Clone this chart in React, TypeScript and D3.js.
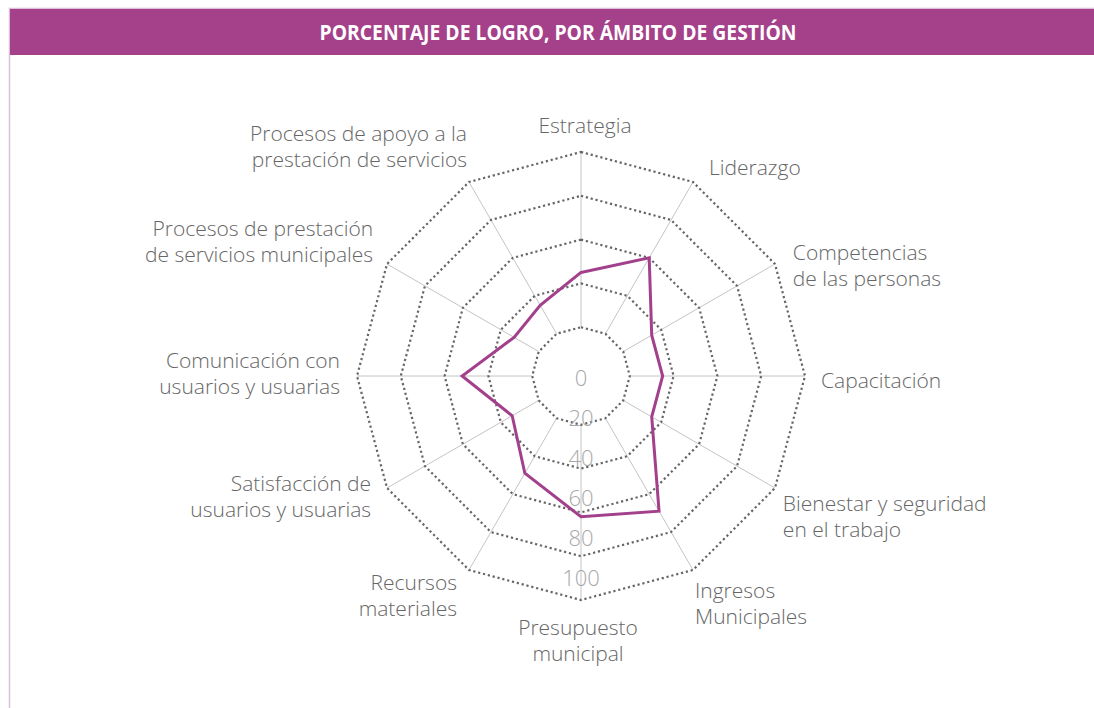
import React from "react";
import * as d3 from "d3";

const categories: string[][] = [
  ["Estrategia"],
  ["Liderazgo"],
  ["Competencias", "de las personas"],
  ["Capacitación"],
  ["Bienestar y seguridad", "en el trabajo"],
  ["Ingresos", "Municipales"],
  ["Presupuesto", "municipal"],
  ["Recursos", "materiales"],
  ["Satisfacción de", "usuarios y usuarias"],
  ["Comunicación con", "usuarios y usuarias"],
  ["Procesos de prestación", "de servicios municipales"],
  ["Procesos de apoyo a la", "prestación de servicios"],
];

const values: number[] = [45, 60, 35, 35, 35, 69, 62, 49, 34, 52, 33, 35];

const ringTicks: number[] = [20, 40, 60, 80, 100];
const tickLabels: number[] = [0, 20, 40, 60, 80, 100];

const title = "PORCENTAJE DE LOGRO, POR ÁMBITO DE GESTIÓN";

// layout nudges for category labels (dx, dy)
const labelNudge: [number, number][] = [
  [4, -11], [8, -1], [4, 9], [0, 4], [-6, 20], [-6, 19],
  [-3, 24], [-4, 11], [-2, 0], [-1, -3], [0, -15], [6, -22],
];

const W = 1094;
const H = 708;
const cx = 581;
const cy = 376;
const FONT = "'Open Sans', Lato, sans-serif";

export default function App() {
  const n = categories.length;
  const angle = d3.scaleLinear().domain([0, n]).range([0, 2 * Math.PI]);
  const r = d3.scaleLinear().domain([0, 100]).range([5, 224]);
  const tickY = d3.scaleLinear().domain([0, 100]).range([cy + 1, cy + 201]);

  const pt = (i: number, rad: number): [number, number] => {
    const a = angle(i);
    return [cx + rad * Math.sin(a), cy - rad * Math.cos(a)];
  };

  const lineGen = d3
    .line<[number, number]>()
    .x((d) => d[0])
    .y((d) => d[1])
    .curve(d3.curveLinearClosed);

  const ringPath = (v: number) =>
    lineGen(d3.range(n).map((i) => pt(i, r(v)))) || "";

  const dataPath = lineGen(values.map((v, i) => pt(i, r(v)))) || "";

  const lineH = 26.5;

  return (
    <svg
      width={W}
      height={H}
      style={{ position: "absolute", left: 0, top: 0, background: "#fff" }}
      fontFamily={FONT}
    >
      <rect x={9.5} y={8.5} width={W} height={H} fill="none" stroke="#dfbedb" strokeWidth={1.5} />
      <rect x={10} y={9} width={W - 10} height={46} fill="#a5418a" />
      <text
        x={558}
        y={32}
        textAnchor="middle"
        dominantBaseline="central"
        fill="#fff"
        fontFamily="'Open Sans', 'Noto Sans', sans-serif"
        fontWeight={700}
        fontSize={21}
        textLength={477}
        lengthAdjust="spacingAndGlyphs"
      >
        {title}
      </text>

      {d3.range(n).map((i) => {
        const [x1, y1] = pt(i, r(ringTicks[0]));
        const [x2, y2] = pt(i, r(100));
        return (
          <line key={"s" + i} x1={x1} y1={y1} x2={x2} y2={y2} stroke="#c4c4c4" strokeWidth={1} />
        );
      })}

      {ringTicks.map((t) => (
        <path
          key={"r" + t}
          d={ringPath(t)}
          fill="none"
          stroke="#666"
          strokeWidth={2.2}
          strokeDasharray="2.2 2.8"
        />
      ))}

      {tickLabels.map((t) => (
        <text
          key={"t" + t}
          x={cx}
          y={tickY(t)}
          textAnchor="middle"
          dominantBaseline="central"
          fill="#a8a8a8"
          fontWeight={300}
          fontSize={22}
        >
          {t}
        </text>
      ))}

      <path d={dataPath} fill="none" stroke="#a3408c" strokeWidth={3} strokeLinejoin="miter" />

      {categories.map((lines, i) => {
        const [bx, by] = pt(i, r(100) + 16);
        const s = Math.sin(angle(i));
        const anchor = s > 0.1 ? "start" : s < -0.1 ? "end" : "middle";
        const x = bx + labelNudge[i][0];
        const yc = by + labelNudge[i][1];
        return (
          <text key={"c" + i} x={x} textAnchor={anchor} fill="#666" fontWeight={300} fontSize={21}>
            {lines.map((l, j) => (
              <tspan
                key={j}
                x={x}
                y={yc + (j - (lines.length - 1) / 2) * lineH}
                dominantBaseline="central"
              >
                {l}
              </tspan>
            ))}
          </text>
        );
      })}
    </svg>
  );
}
